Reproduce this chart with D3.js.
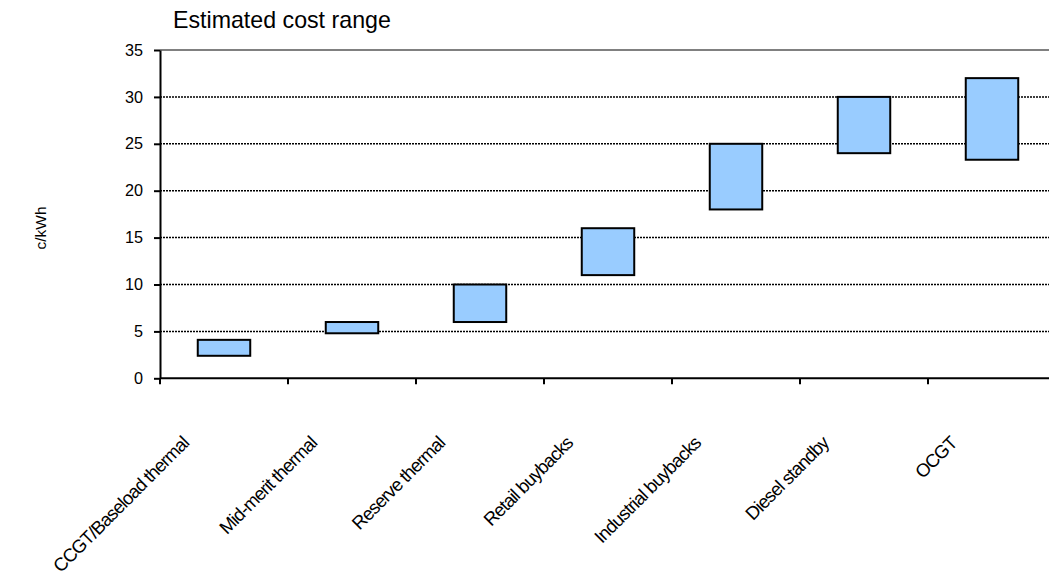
<!DOCTYPE html>
<html>
<head>
<meta charset="utf-8">
<script src="https://cdn.jsdelivr.net/npm/d3@7"></script>
<style>
  html, body { margin: 0; padding: 0; background: #fff; }
  svg { display: block; font-family: "Liberation Sans", Arial, sans-serif; }
</style>
</head>
<body>
<svg id="chart" width="1049" height="575"></svg>
<script>
// Cost range per generation / demand-response option (c/kWh)
const categories = [
  "CCGT/Baseload thermal",
  "Mid-merit thermal",
  "Reserve thermal",
  "Retail buybacks",
  "Industrial buybacks",
  "Diesel standby",
  "OCGT"
];
const lowValues  = [2.4, 4.8, 6, 11, 18, 24, 23.3];
const highValues = [4.1, 6, 10, 16, 25, 30, 32];
const yTicks = [0, 5, 10, 15, 20, 25, 30, 35];

const svg = d3.select("#chart");
const W = 1049;
const plotLeft = 160, plotTop = 50, plotBottom = 378.3, plotRight = 1056;

const x = d3.scaleBand()
  .domain(categories)
  .range([plotLeft, plotRight])
  .paddingInner(0.59)
  .paddingOuter(0.295);

const y = d3.scaleLinear().domain([0, 35]).range([plotBottom, plotTop]);

// Title
svg.append("text")
  .attr("x", 173).attr("y", 28)
  .attr("font-size", 23.2)
  .attr("fill", "#000")
  .text("Estimated cost range");

// Y axis title
svg.append("text")
  .attr("transform", `translate(46,228) rotate(-90)`)
  .attr("text-anchor", "middle")
  .attr("font-size", 15.5)
  .text("c/kWh");

// Horizontal gridlines (dotted), top border solid grey
const grid = svg.append("g");
grid.selectAll("line.grid")
  .data(yTicks.filter(v => v > 0 && v < 35))
  .join("line")
  .attr("class", "grid")
  .attr("x1", plotLeft).attr("x2", W)
  .attr("y1", d => y(d)).attr("y2", d => y(d))
  .attr("stroke", "#000")
  .attr("stroke-width", 1.5)
  .attr("stroke-dasharray", "2,1");
grid.append("line")
  .attr("x1", plotLeft).attr("x2", W)
  .attr("y1", y(35)).attr("y2", y(35))
  .attr("stroke", "#808080")
  .attr("stroke-width", 2);

// Floating range bars
svg.append("g").selectAll("rect")
  .data(categories.map((c, i) => ({ c, lo: lowValues[i], hi: highValues[i] })))
  .join("rect")
  .attr("x", d => x(d.c))
  .attr("width", x.bandwidth())
  .attr("y", d => y(d.hi))
  .attr("height", d => y(d.lo) - y(d.hi))
  .attr("fill", "#99CCFF")
  .attr("stroke", "#000")
  .attr("stroke-width", 2);

// Y axis
const yAxis = svg.append("g")
  .attr("transform", `translate(${plotLeft},0)`)
  .call(d3.axisLeft(y).tickValues(yTicks).tickSize(6).tickPadding(11).tickSizeOuter(0));
yAxis.select(".domain").attr("stroke", "#000").attr("stroke-width", 2);
yAxis.selectAll(".tick line").attr("stroke", "#000").attr("stroke-width", 2);
yAxis.selectAll(".tick text")
  .attr("font-size", 16.2)
  .attr("font-family", "Liberation Sans, Arial, sans-serif")
  .attr("fill", "#000");

// X axis baseline with ticks at category boundaries
const boundaries = categories.map(c => x(c) - x.step() * x.paddingOuter());
svg.append("line")
  .attr("x1", plotLeft).attr("x2", W)
  .attr("y1", plotBottom).attr("y2", plotBottom)
  .attr("stroke", "#000").attr("stroke-width", 2);
svg.append("g").selectAll("line")
  .data(boundaries)
  .join("line")
  .attr("x1", d => d).attr("x2", d => d)
  .attr("y1", plotBottom).attr("y2", plotBottom + 6)
  .attr("stroke", "#000").attr("stroke-width", 2);

// Rotated category labels
svg.append("g").selectAll("text")
  .data(categories)
  .join("text")
  .attr("transform", d => `translate(${x(d) + x.bandwidth() / 2 - 34},${plotBottom + 66}) rotate(-45)`)
  .attr("text-anchor", "end")
  .attr("font-size", 18.5)
  .attr("letter-spacing", -0.9)
  .attr("fill", "#000")
  .text(d => d);
</script>
</body>
</html>
